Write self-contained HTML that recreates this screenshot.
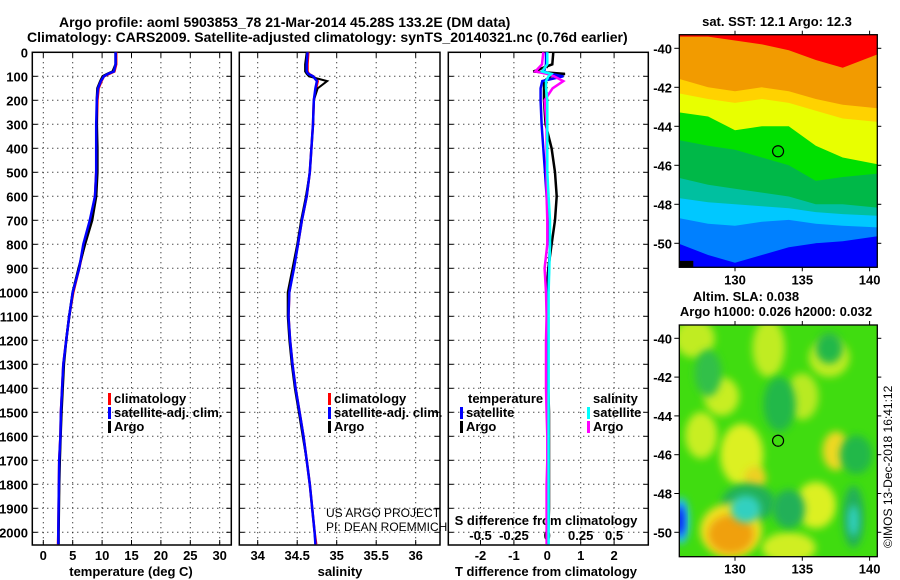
<!DOCTYPE html>
<html><head><meta charset="utf-8"><style>
html,body{margin:0;padding:0;background:#fff;}
svg{display:block;font-family:"Liberation Sans",Arial,sans-serif;}
.t{font-weight:bold;font-size:14px;fill:#000;}
.tk{font-weight:bold;font-size:13px;fill:#000;}
.cr{font-weight:normal;font-size:12px;fill:#000;}
</style></head><body>
<svg id="c" width="900" height="580" viewBox="0 0 900 580" xmlns="http://www.w3.org/2000/svg">
<text class="t" x="59" y="27">Argo profile: aoml 5903853_78 21-Mar-2014 45.28S 133.2E (DM data)</text>
<text class="t" x="27" y="42">Climatology: CARS2009. Satellite-adjusted climatology: synTS_20140321.nc (0.76d earlier)</text>
</svg>
<script>
// ---- data ----
const depths = [0,50,80,90,100,120,150,200,300,400,500,600,700,800,900,1000,1100,1200,1300,1400,1500,1600,1700,1800,1900,2000,2050];
const tClim = [12.4,12.4,12.1,11.2,10.3,9.9,9.4,9.2,9.1,9.1,9.0,8.8,8.1,7.0,6.1,5.1,4.4,3.9,3.4,3.2,3.0,2.9,2.7,2.65,2.6,2.55,2.5];
const tSat  = [12.3,12.3,12.0,11.0,10.3,9.8,9.3,9.1,9.0,9.0,9.0,8.8,7.9,6.8,6.1,5.0,4.4,3.9,3.4,3.2,3.0,2.9,2.7,2.65,2.6,2.55,2.55];
const tArgo = [12.3,12.3,11.8,10.9,10.1,9.7,9.2,9.1,9.1,9.2,9.2,9.0,8.3,7.1,6.0,5.0,4.4,3.9,3.5,3.3,3.1,2.95,2.8,2.7,2.65,2.6,2.6];
const sClim = [34.64,34.63,34.63,34.65,34.70,34.76,34.74,34.71,34.70,34.68,34.66,34.62,34.56,34.51,34.45,34.40,34.39,34.41,34.44,34.48,34.53,34.58,34.62,34.66,34.69,34.72,34.74];
const sSat  = [34.63,34.62,34.62,34.64,34.70,34.75,34.73,34.71,34.70,34.68,34.66,34.62,34.56,34.51,34.46,34.40,34.39,34.41,34.44,34.48,34.53,34.58,34.62,34.66,34.69,34.72,34.73];
const sArgo = [34.62,34.60,34.60,34.62,34.65,34.88,34.76,34.71,34.70,34.68,34.66,34.61,34.55,34.50,34.44,34.38,34.38,34.40,34.43,34.47,34.52,34.57,34.62,34.66,34.69,34.72,34.73];
const dTSat  = [-0.04,-0.04,-0.1,0.1,0.48,-0.15,-0.2,-0.2,-0.17,-0.12,-0.07,-0.02,0.03,0.08,0.05,0.03,0.03,0.03,0.03,0.03,0.03,0.03,0.03,0.03,0.03,0.03,0.03];
const dTArgo = [0.18,0.15,-0.42,0.53,0.1,-0.1,-0.1,-0.1,-0.05,0.13,0.23,0.28,0.23,0.13,0.03,-0.02,0.03,0.03,0.03,0.03,0.05,0.05,0.05,0.05,0.05,0.03,0.03];
const dSSat  = [0.0,0.0,-0.04,0.03,0.01,-0.01,-0.01,0.0,0.0,0.0,0.0,0.01,0.02,0.02,0.015,0.01,0.01,0.01,0.01,0.01,0.01,0.01,0.01,0.01,0.01,0.01,0.01];
const dSArgo = [-0.03,-0.04,-0.09,0.0,0.05,0.12,0.04,-0.02,-0.005,-0.005,-0.005,-0.005,0.0,0.0,-0.02,-0.01,-0.005,-0.01,-0.01,-0.01,-0.005,0.0,0.0,-0.005,-0.005,-0.005,-0.005];
const depthTicks = [0,100,200,300,400,500,600,700,800,900,1000,1100,1200,1300,1400,1500,1600,1700,1800,1900,2000];
const tTicks = [0,5,10,15,20,25,30];
const sTicks = [34,34.5,35,35.5,36];
const sTickLabels = ['34','34.5','35','35.5','36'];
const dTTicks = [-2,-1,0,1,2];
const dSTicks = [-0.5,-0.25,0,0.25,0.5];
const dSTickLabels = ['-0.5','-0.25','0','0.25','0.5'];
const latTicks = [-40,-42,-44,-46,-48,-50];
const lonTicks = [130,135,140];
const argoLon = 133.2, argoLat = -45.28;

const NS='http://www.w3.org/2000/svg';
const svg=document.getElementById('c');
function el(tag,attrs,parent){const e=document.createElementNS(NS,tag);for(const k in attrs)e.setAttribute(k,attrs[k]);(parent||svg).appendChild(e);return e;}
function txt(s,x,y,anchor,cls,parent){const e=el('text',{x:x,y:y,'text-anchor':anchor||'start',class:cls||'tk'},parent);e.textContent=s;return e;}

const Y0=52.3, YB=545;
const yD = d => Y0 + d*0.24;
const xT = v => 43.3 + v*5.88;
const xS = v => 257.7 + (v-34)*79;
const xdT = v => 547.3 + v*33.4;
const xdS = v => 547.3 + v*133.6;

const panels=[{x0:32.3,x1:231.3,name:'temperature-panel'},{x0:239.3,x1:440,name:'salinity-panel'},{x0:448.3,x1:648.3,name:'difference-panel'}];

function panelFrame(p,xticks,xfn){
  const g=el('g',{});
  
  
  depthTicks.forEach(d=>{const y=yD(d);if(y<=Y0+0.5)return;const l=el('line',{x1:p.x0,x2:p.x1,y1:y,y2:y,stroke:'#000','stroke-width':1,'stroke-dasharray':'1,4'},g);
    
    
    el('line',{x1:p.x0,x2:p.x0+5,y1:y,y2:y,stroke:'#000'},g);el('line',{x1:p.x1-5,x2:p.x1,y1:y,y2:y,stroke:'#000'},g);});
  xticks.forEach(v=>{const x=xfn(v);const l=el('line',{x1:x,x2:x,y1:Y0,y2:YB,stroke:'#000','stroke-width':1,'stroke-dasharray':'1,4'},g);
    
    
    el('line',{x1:x,x2:x,y1:YB-5,y2:YB,stroke:'#000'},g);el('line',{x1:x,x2:x,y1:Y0,y2:Y0+5,stroke:'#000'},g);});
  const r=el('rect',{x:p.x0,y:Y0,width:p.x1-p.x0,height:YB-Y0,fill:'none',stroke:'#000','stroke-width':1.5},g);
  
  
  return g;
}
function line(vals,fn,color,w,name){
  const pts=vals.map((v,i)=>fn(v).toFixed(1)+','+yD(depths[i]).toFixed(1)).join(' ');
  const pl=el('polyline',{points:pts,fill:'none',stroke:color,'stroke-width':w,'stroke-linejoin':'miter'});
  
  
}
panelFrame(panels[0],tTicks,xT);
panelFrame(panels[1],sTicks,xS);
panelFrame(panels[2],dTTicks,xdT);

depthTicks.forEach(d=>{const t=txt(String(d),28,yD(d)+5,'end');
  
  });
tTicks.forEach(v=>{const t=txt(String(v),xT(v),560,'middle');
  
  });
sTicks.forEach((v,i)=>{const t=txt(sTickLabels[i],xS(v),560,'middle');
  
  });
dTTicks.forEach(v=>{const t=txt(String(v),xdT(v),560,'middle');
  
  });
dSTicks.forEach((v,i)=>{const t=txt(dSTickLabels[i],xdS(v),540,'middle');
  
  });
let a;
a=txt('temperature (deg C)',131,576,'middle');


a=txt('salinity',340,576,'middle');


a=txt('T difference from climatology',546,576,'middle');


a=txt('S difference from climatology',546,525,'middle');



line(tClim,xT,'#ff0000',2.5,'temperature-climatology-line');
line(tArgo,xT,'#000000',2.5,'temperature-argo-line');
line(tSat,xT,'#0000ff',2.5,'temperature-satellite-line');
line(sClim,xS,'#ff0000',2.5,'salinity-climatology-line');
line(sArgo,xS,'#000000',2,'salinity-argo-line');
line(sSat,xS,'#0000ff',2.5,'salinity-satellite-line');
line(dTArgo,xdT,'#000000',2.5,'t-diff-argo-line');
line(dTSat,xdT,'#0000ff',2.5,'t-diff-satellite-line');
line(dSArgo,xdS,'#ff00ff',2.5,'s-diff-argo-line');
line(dSSat,xdS,'#00ffff',2.5,'s-diff-satellite-line');

function legItem(x,y,color,label,name){
  const g=el('g',{});
  
  
  el('rect',{x:x,y:y-10,width:3,height:12,fill:color},g);
  txt(label,x+6,y,'start','tk',g);
}
[['climatology','#ff0000'],['satellite-adj. clim.','#0000ff'],['Argo','#000000']].forEach((it,i)=>legItem(108,403+i*14,it[1],it[0],'legend-entry-temp-'+i));
[['climatology','#ff0000'],['satellite-adj. clim.','#0000ff'],['Argo','#000000']].forEach((it,i)=>legItem(328,403+i*14,it[1],it[0],'legend-entry-sal-'+i));
a=txt('temperature',468,403,'start');


a=txt('salinity',593,403,'start');


legItem(460,417,'#0000ff','satellite','legend-entry-dt-satellite');
legItem(460,431,'#000000','Argo','legend-entry-dt-argo');
legItem(587,417,'#00ffff','satellite','legend-entry-ds-satellite');
legItem(587,431,'#ff00ff','Argo','legend-entry-ds-argo');
a=txt('US ARGO PROJECT',326,517,'start','cr');


a=txt('PI: DEAN ROEMMICH',326,531,'start','cr');



const MX0=679.3, MX1=877.3;
const lonX = v => 735 + (v-130)*13.46;
function mapFrame(top,bottom,name){
  const g=el('g',{});
  
  
  const cp=el('clipPath',{id:name+'-clip'},g);
  el('rect',{x:MX0,y:top,width:MX1-MX0,height:bottom-top},cp);
  const inner=el('g',{'clip-path':'url(#'+name+'-clip)'},g);
  return {g,inner};
}
function finishMap(m,top,bottom,latY){
  el('rect',{x:MX0,y:top,width:MX1-MX0,height:bottom-top,fill:'none',stroke:'#000','stroke-width':1.3},m.g);
  latTicks.forEach(v=>{const y=latY(v);el('line',{x1:MX0-5,x2:MX0,y1:y,y2:y,stroke:'#000'},m.g);el('line',{x1:MX1,x2:MX1+4,y1:y,y2:y,stroke:'#000'},m.g);
    const t=txt(String(v),672,y+5,'end','tk',m.g);
    
    });
  lonTicks.forEach(v=>{const x=lonX(v);el('line',{x1:x,x2:x,y1:top-4,y2:top,stroke:'#000'},m.g);el('line',{x1:x,x2:x,y1:bottom,y2:bottom+4,stroke:'#000'},m.g);
    const t=txt(String(v),x,bottom+17,'middle','tk',m.g);
    
    });
  const c=el('circle',{cx:lonX(argoLon),cy:latY(argoLat),r:5.5,fill:'none',stroke:'#000','stroke-width':1.2},m.g);
  
  
}
const latY1 = v => 48.3 + (-40 - v)*19.5;
const m1=mapFrame(34.7,267.3,'sst-map');
const bandLons=[125,128,130,132,134,136,138,141];
const sstBands=[
 ['#ff0000',[-38,-38,-38,-38,-38,-38,-38,-38]],
 ['#f29b00',[-39.4,-39.4,-39.6,-39.8,-40.1,-40.6,-41.0,-40.2]],
 ['#ffd200',[-41.4,-42.0,-42.2,-42.0,-42.2,-42.6,-42.9,-43.1]],
 ['#e8ff00',[-42.2,-42.6,-42.8,-42.6,-42.8,-43.2,-43.6,-43.8]],
 ['#00e000',[-43.2,-43.5,-44.2,-44.0,-44.0,-45.0,-45.6,-46.0]],
 ['#00b848',[-44.6,-45.0,-45.2,-45.6,-46.0,-46.8,-46.6,-46.4]],
 ['#00c0a0',[-46.5,-47.0,-47.2,-47.4,-47.6,-48.0,-48.0,-48.2]],
 ['#00c8ff',[-47.6,-47.9,-48.0,-48.1,-48.2,-48.4,-48.5,-48.6]],
 ['#0080ff',[-48.6,-49.0,-49.1,-48.9,-48.8,-49.0,-49.1,-49.2]],
 ['#0000ff',[-49.8,-50.6,-51.0,-50.6,-50.2,-50.0,-49.9,-49.6]]
];
sstBands.forEach((b,i)=>{
  const pts=bandLons.map((lo,j)=>lonX(lo).toFixed(1)+','+latY1(b[1][j]).toFixed(1));
  pts.push(lonX(141)+','+latY1(-53));pts.push(lonX(125)+','+latY1(-53));
  const p=el('polygon',{points:pts.join(' '),fill:b[0]},m1.inner);
  
  
});
el('rect',{x:MX0,y:latY1(-50.9),width:14,height:20,fill:'#000'},m1.inner);
el('rect',{x:lonX(136),y:latY1(-50),width:80,height:30,fill:'#0000ff'},m1.inner);
finishMap(m1,34.7,267.3,latY1);
a=txt('sat. SST: 12.1 Argo: 12.3',777,26,'middle');



const latY2 = v => 338.3 + (-40 - v)*19.4;
const m2=mapFrame(325,556.7,'sla-map');
const defs=el('defs',{});
const f=el('filter',{id:'blur',x:'-50%',y:'-50%',width:'200%',height:'200%'},defs);
el('feGaussianBlur',{stdDeviation:4},f);
el('rect',{x:MX0,y:325,width:MX1-MX0,height:232,fill:'#40dc10'},m2.inner);
const blobs=[
 [127,-40,1.5,1,'#c0ec20'],[132.5,-40.5,1.2,1.5,'#c0ec20'],[137,-41,1.5,1,'#c0ec20'],[129,-43,1.3,1,'#c8ee20'],
 [135,-43,1.2,1.2,'#b8ea20'],[127.5,-45,1.2,1.2,'#c8ee20'],[130.5,-46,1.6,1.6,'#dcf020'],[131.5,-47.2,0.8,0.6,'#eed020'],
 [137.5,-45.8,1,1,'#eed820'],[136,-48.6,1.5,1.2,'#dcf020'],[134,-50.8,2,0.8,'#d0ee20'],
 [137,-40.5,1,0.8,'#20b848'],[133.3,-43.4,1.2,1.4,'#20b848'],[128,-41.8,1,1.2,'#30c048'],[139,-46,1.2,1,'#20b848'],
 [131,-48.5,2,1,'#20b058'],[134,-48.8,1.2,1,'#20b058'],[138.8,-49.2,0.8,1.6,'#20b058'],
 [129.7,-49.9,2.3,1.4,'#f0e020'],[129.7,-50.1,1.7,1,'#f0a010'],[130.8,-48.8,1.1,0.7,'#30d0c0'],[138.8,-49.4,0.4,0.8,'#30d0c0'],
 [126,-49.4,0.6,1.2,'#20c0ff'],[125.9,-49.4,0.3,0.8,'#0000f0']
];
blobs.forEach((b,i)=>{
  const e=el('ellipse',{cx:lonX(b[0]),cy:latY2(b[1]),rx:b[2]*13.46,ry:b[3]*19.4,fill:b[4],filter:'url(#blur)'},m2.inner);
  
  
});
finishMap(m2,325,556.7,latY2);
a=txt('Altim. SLA: 0.038',746,301,'middle');


a=txt('Argo h1000: 0.026 h2000: 0.032',776,316,'middle');


a=el('text',{x:0,y:0,transform:'translate(892,548) rotate(-90)','font-size':'12'});
a.textContent='©IMOS 13-Dec-2018 16:41:12';


</script>
</body></html>
